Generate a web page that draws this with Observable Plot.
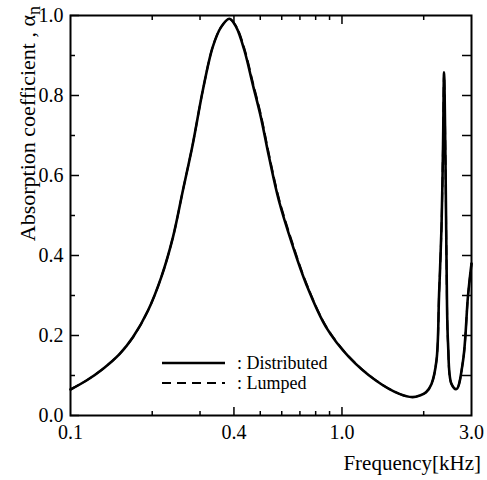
<!DOCTYPE html>
<html>
<head>
<meta charset="utf-8">
<script src="https://cdn.jsdelivr.net/npm/d3@7"></script>
<script src="https://cdn.jsdelivr.net/npm/@observablehq/plot@0.6"></script>
<style>
  html, body { margin: 0; padding: 0; background: #fff; }
  #chart svg { display: block; }
  #chart svg text { font-family: "Liberation Serif", "Times New Roman", "DejaVu Serif", serif; }
</style>
</head>
<body>
<div id="chart"></div>
<script>
// ---- data ----
const freqDistributed = [0.1, 0.1145, 0.1319, 0.1518, 0.17, 0.193, 0.216, 0.2385, 0.2594, 0.2822, 0.3071, 0.334, 0.3586, 0.3847,
  0.4078, 0.4372, 0.4687, 0.5026, 0.5388, 0.5855, 0.6549, 0.7378, 0.8737, 1.062, 1.333, 1.627, 1.818, 1.936, 2.04,
  2.137, 2.229, 2.279, 2.326, 2.357, 2.377, 2.406, 2.427, 2.459, 2.531, 2.641, 2.793, 2.913, 3.0];
const alphaDistributed = [0.065, 0.0875, 0.117, 0.154, 0.196, 0.2625, 0.346, 0.446, 0.5625, 0.679, 0.8125, 0.921, 0.971, 0.992,
  0.971, 0.9125, 0.829, 0.746, 0.646, 0.5375, 0.429, 0.329, 0.221, 0.146, 0.0875, 0.054, 0.046, 0.05, 0.058,
  0.079, 0.1375, 0.304, 0.47, 0.679, 0.858, 0.6375, 0.3875, 0.179, 0.079, 0.066, 0.1375, 0.30, 0.38];
const freqLumped = [0.1, 0.1145, 0.1319, 0.1518, 0.17, 0.193, 0.216, 0.2385, 0.2594, 0.2822, 0.3071, 0.334, 0.3586, 0.3847,
  0.4078, 0.4372, 0.4687, 0.5026, 0.5388, 0.5855, 0.6549, 0.7378, 0.8737, 1.062, 1.333, 1.627, 1.818, 1.936, 2.04,
  2.137, 2.229, 2.279, 2.326, 2.357, 2.377, 2.406, 2.427, 2.459, 2.531, 2.641, 2.793, 2.913, 3.0];
const alphaLumped = [0.065, 0.0875, 0.117, 0.154, 0.196, 0.2625, 0.346, 0.446, 0.5625, 0.679, 0.8125, 0.921, 0.971, 0.991,
  0.973, 0.917, 0.835, 0.752, 0.652, 0.543, 0.434, 0.332, 0.223, 0.147, 0.088, 0.054, 0.046, 0.05, 0.058,
  0.079, 0.1375, 0.304, 0.47, 0.679, 0.855, 0.6375, 0.3875, 0.179, 0.079, 0.066, 0.1375, 0.30, 0.38];

const xTickLabels = [0.1, 0.4, 1.0, 3.0];
const xMajorInner = [0.4, 1.0];
const xMinor = [0.2, 0.3, 0.5, 0.6, 0.7, 0.8, 0.9, 2.0];
const yMajor = [0, 0.2, 0.4, 0.6, 0.8, 1.0];
const yMinor = [0.1, 0.3, 0.5, 0.7, 0.9];
const yAll = [0.1, 0.2, 0.3, 0.4, 0.5, 0.6, 0.7, 0.8, 0.9];

const seriesNames = ["Distributed", "Lumped"];
const xTitle = "Frequency[kHz]";
const yTitle = "Absorption coefficient , α";
const yTitleSub = "n";

const distributed = freqDistributed.map((f, i) => ({f, a: alphaDistributed[i]}));
const lumped = freqLumped.map((f, i) => ({f, a: alphaLumped[i]}));

const W = 487, H = 480;
const mt = 15, mr = 16, mb = 65, ml = 70;
const innerH = H - mt - mb;
const innerW = W - ml - mr;
const FONT = "'Liberation Serif', 'Times New Roman', 'DejaVu Serif', serif";

const plot = Plot.plot({
  width: W, height: H,
  marginTop: mt, marginRight: mr, marginBottom: mb, marginLeft: ml,
  style: {fontFamily: FONT, fontSize: "20px", color: "#000", background: "#fff"},
  x: {type: "log", domain: [0.1, 3.0]},
  y: {domain: [0, 1]},
  marks: [
    // bottom ticks (inward)
    Plot.ruleX(xMinor, {x: d => d, insetTop: innerH - 4, strokeWidth: 1.5}),
    Plot.ruleX(xMajorInner, {x: d => d, insetTop: innerH - 8, strokeWidth: 1.5}),
    // top ticks (inward)
    Plot.ruleX(xMinor, {x: d => d, insetBottom: innerH - 5, strokeWidth: 1.5}),
    Plot.ruleX(xMajorInner, {x: d => d, insetBottom: innerH - 9, strokeWidth: 1.5}),
    // left ticks
    Plot.ruleY(yMinor, {y: d => d, insetRight: innerW - 5, strokeWidth: 1.5}),
    Plot.ruleY(yMajor, {y: d => d, insetRight: innerW - 9, strokeWidth: 1.5}),
    // right ticks
    Plot.ruleY(yAll, {y: d => d, insetLeft: innerW - 9, strokeWidth: 1.5}),
    Plot.frame({stroke: "#000", strokeWidth: 2}),
    Plot.axisX({ticks: xTickLabels, tickSize: 0, tickPadding: 9, tickFormat: d => d.toFixed(1), label: null, fontSize: 20}),
    Plot.axisY({ticks: yMajor, tickSize: 0, tickPadding: 7, tickFormat: d => d.toFixed(1), label: null, fontSize: 20}),
    Plot.line(distributed, {x: "f", y: "a", curve: "catmull-rom", stroke: "#000", strokeWidth: 2.6}),
    Plot.line(lumped, {x: "f", y: "a", curve: "catmull-rom", stroke: "#000", strokeWidth: 2, strokeDasharray: "9,6"})
  ]
});

const svg = d3.select(plot);

// y-axis title (rotated, with subscript)
const yt = svg.append("text")
  .attr("transform", "translate(35,6) rotate(-90)")
  .attr("text-anchor", "end")
  .attr("font-size", 22)
  .attr("fill", "#000");
yt.append("tspan").text(yTitle);
yt.append("tspan").attr("dy", 5).attr("font-size", 18).text(yTitleSub);

// x-axis title
svg.append("text")
  .attr("x", 481).attr("y", 470)
  .attr("text-anchor", "end")
  .attr("font-size", 21)
  .attr("fill", "#000")
  .text(xTitle);

// legend
const leg = svg.append("g").attr("font-size", 18).attr("fill", "#000").attr("text-anchor", "start");
const legRows = [{name: seriesNames[0], y: 363, dash: null, w: 2.6}, {name: seriesNames[1], y: 383, dash: "9,6", w: 2}];
legRows.forEach(r => {
  leg.append("line").attr("x1", 162).attr("x2", 225).attr("y1", r.y).attr("y2", r.y)
    .attr("stroke", "#000").attr("stroke-width", r.w).attr("stroke-dasharray", r.dash);
  leg.append("text").attr("x", 237).attr("y", r.y).attr("dy", "0.35em").text(": " + r.name);
});

document.getElementById("chart").appendChild(plot);
</script>
</body>
</html>
